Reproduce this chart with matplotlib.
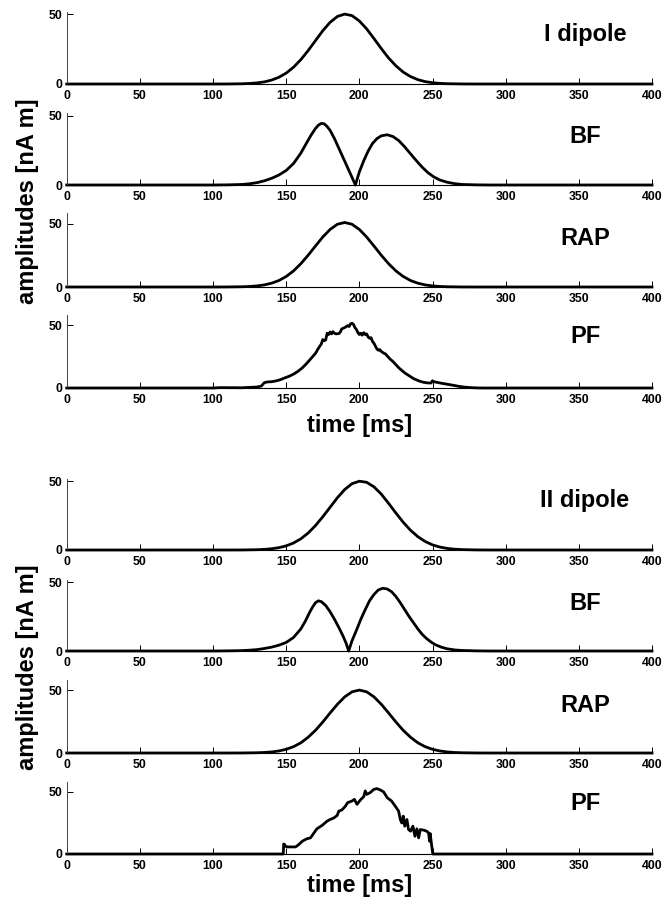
import matplotlib
matplotlib.use("Agg")
import matplotlib.pyplot as plt

# ---------------- data ----------------
# I dipole (top half)
t_dip1 = [0, 100, 110, 120, 125, 130, 135, 140, 145, 150, 155, 160, 165, 170, 175, 180, 185, 190,
          195, 200, 205, 210, 215, 220, 225, 230, 235, 240, 245, 250, 255, 260, 270, 280, 400]
v_dip1 = [0, 0.0, 0.03, 0.18, 0.39, 0.79, 1.5, 2.8, 4.8, 7.8, 12.0, 17.4, 23.9, 31.0, 38.1, 44.1, 48.3, 50.0,
          48.9, 45.1, 39.4, 32.5, 25.3, 18.6, 13.0, 8.5, 5.3, 3.1, 1.7, 0.9, 0.45, 0.21, 0.04, 0.0, 0]

# BF (top half)
t_bf1 = [0, 100, 110, 120, 125, 130, 135, 140, 145, 150, 155, 160, 164, 167, 170, 172, 174, 176, 178, 180,
         183, 186, 189, 192, 195, 197.3, 200, 203, 206, 209, 212, 215, 219, 223, 227, 231, 235, 239, 243, 247,
         251, 255, 260, 265, 270, 280, 290, 400]
v_bf1 = [0, 0.0, 0.1, 0.4, 0.9, 1.7, 3.0, 4.8, 7.2, 10.5, 15.5, 23.0, 30.5, 36.0, 40.8, 43.2, 44.5, 44.2, 42.2, 39.5,
         33.5, 26.5, 19.5, 12.5, 5.5, 0.0, 9.5, 17.5, 24.5, 30.0, 33.5, 35.5, 36.3, 35.0, 32.0, 27.5, 22.5, 17.5, 12.8, 8.8,
         5.8, 3.6, 2.0, 1.0, 0.4, 0.1, 0.0, 0]

# RAP (top half)
t_rap1 = [0, 100, 110, 120, 125, 130, 135, 140, 145, 150, 155, 160, 165, 170, 175, 180, 185, 190,
          195, 200, 205, 210, 215, 220, 225, 230, 235, 240, 245, 250, 255, 260, 270, 280, 400]
v_rap1 = [0, 0.0, 0.04, 0.2, 0.42, 0.86, 1.65, 3.0, 5.1, 8.3, 12.7, 18.4, 25.1, 32.4, 39.5, 45.5, 49.6, 51.0,
          49.6, 45.5, 39.5, 32.4, 25.1, 18.4, 12.7, 8.3, 5.1, 3.0, 1.65, 0.86, 0.42, 0.2, 0.04, 0.0, 0]

# PF (top half)
t_pf1 = [0, 100, 105, 120, 130, 133, 135, 137, 140, 143, 146, 149, 152, 155, 158, 161, 164, 167, 170, 172,
         174, 175, 176, 177, 178, 179, 180, 181, 182, 183, 184, 186, 187, 188, 190, 191, 192, 193, 194, 195,
         196, 197, 198, 199, 200, 201, 202, 203, 204, 205, 206, 207, 208, 209, 210, 212, 213, 214, 215, 217,
         218, 219, 221, 223, 225, 227, 229, 231, 233, 235, 237, 239, 241, 244, 247, 249, 250, 251, 253, 256,
         260, 264, 268, 272, 276, 280, 284, 400]
v_pf1 = [0, 0, 0.3, 0.2, 0.8, 1.5, 4.2, 4.8, 5.0, 5.6, 6.6, 8.0, 9.3, 11.0, 13.2, 16.0, 19.5, 23.5, 27.5, 31.5,
         35.0, 38.5, 37.5, 38.2, 43.5, 42.5, 44.5, 43.0, 44.8, 43.5, 43.0, 43.2, 44.5, 47.0, 48.0, 48.8, 49.5, 48.8, 51.0, 51.5,
         50.5, 48.0, 46.5, 44.0, 42.5, 43.5, 42.0, 44.0, 42.5, 43.0, 40.5, 39.5, 40.0, 37.0, 35.5, 31.0, 30.0, 30.5, 29.0, 27.5,
         27.0, 25.5, 23.0, 21.0, 18.5, 16.0, 14.0, 12.0, 10.5, 9.0, 7.5, 6.5, 5.5, 4.5, 4.0, 4.0, 5.8, 5.0, 4.5, 3.8,
         3.0, 2.2, 1.3, 0.7, 0.3, 0.1, 0, 0]

# II dipole (bottom half)
t_dip2 = [0, 110, 120, 130, 135, 140, 145, 150, 155, 160, 165, 170, 175, 180, 185, 190, 195, 200,
          205, 210, 215, 220, 225, 230, 235, 240, 245, 250, 255, 260, 265, 270, 280, 290, 400]
v_dip2 = [0, 0.01, 0.04, 0.21, 0.45, 0.9, 1.68, 3.0, 5.07, 8.1, 12.3, 17.7, 24.1, 31.0, 37.9, 43.9, 48.1, 49.9,
          49.1, 45.8, 40.5, 33.8, 26.8, 20.1, 14.3, 9.65, 6.16, 3.72, 2.13, 1.16, 0.6, 0.29, 0.06, 0.01, 0]

# BF (bottom half)
t_bf2 = [0, 100, 110, 120, 125, 130, 135, 140, 145, 150, 155, 160, 163, 166, 168, 170, 172, 174, 177, 180,
         183, 186, 189, 191, 192.7, 195, 198, 201, 204, 207, 210, 213, 216, 219, 222, 225, 228, 231, 234, 237,
         240, 243, 246, 249, 252, 256, 260, 265, 270, 280, 290, 400]
v_bf2 = [0, 0.0, 0.1, 0.3, 0.6, 1.0, 1.8, 2.8, 4.2, 6.2, 9.8, 16.0, 21.5, 28.0, 31.8, 35.0, 36.4, 35.8, 33.0, 28.5,
         23.0, 17.0, 10.5, 5.5, 0.0, 7.5, 15.0, 23.0, 30.0, 36.5, 41.0, 44.3, 45.5, 45.0, 43.0, 39.5, 35.0, 30.0, 25.0, 20.5,
         16.0, 12.0, 9.0, 6.5, 4.5, 2.8, 1.6, 0.8, 0.4, 0.1, 0.0, 0]

# RAP (bottom half)
t_rap2 = [0, 110, 120, 130, 135, 140, 145, 150, 155, 160, 165, 170, 175, 180, 185, 190, 195, 200,
          205, 210, 215, 220, 225, 230, 235, 240, 245, 250, 255, 260, 265, 270, 280, 290, 400]
v_rap2 = [0, 0.0, 0.04, 0.2, 0.41, 0.84, 1.62, 2.94, 5.0, 8.1, 12.5, 18.0, 24.6, 31.8, 38.7, 44.6, 48.6, 50.0,
          48.6, 44.6, 38.7, 31.8, 24.6, 18.0, 12.5, 8.1, 5.0, 2.94, 1.62, 0.84, 0.41, 0.2, 0.04, 0.0, 0]

# PF (bottom half)
t_pf2 = [0, 148, 148.3, 149, 149.5, 151, 156.4, 158.6, 161, 164, 166.6, 169, 171, 174.5, 178, 180, 182.5, 184.8,
         186, 188, 190.5, 192, 195, 196.6, 198.4, 200.7, 203, 204, 205, 207.5, 209.8, 212, 214.3, 216.6, 219, 222,
         224.5, 226.8, 228, 229, 230, 231, 232.5, 233.6, 235, 236.6, 238, 239.3, 240.5, 241.6, 244, 246, 247.3,
         248, 248.4, 249.5, 250.2, 400]
v_pf2 = [0, 0, 8.1, 7.5, 6.2, 5.7, 5.7, 7.6, 10.3, 12.2, 13.0, 17.0, 20.3, 23.0, 26.5, 27.8, 29.0, 31.0,
         34.6, 35.4, 38.6, 41.4, 42.7, 44.0, 40.0, 43.5, 46.2, 50.8, 48.0, 49.5, 52.0, 52.7, 51.6, 50.0, 45.4, 42.7,
         38.6, 34.6, 27.8, 25.0, 30.5, 22.4, 27.8, 19.7, 18.4, 22.4, 14.3, 20.3, 13.0, 19.7, 19.2, 18.4, 17.0,
         10.3, 16.5, 6.2, 0, 0]

panel_titles = ["I dipole", "BF", "RAP", "PF", "II dipole", "BF", "RAP", "PF"]
x_ticks = [0, 50, 100, 150, 200, 250, 300, 350, 400]
y_ticks = [0, 50]
x_label = "time [ms]"
y_label = "amplitudes [nA m]"

series = [(t_dip1, v_dip1), (t_bf1, v_bf1), (t_rap1, v_rap1), (t_pf1, v_pf1),
          (t_dip2, v_dip2), (t_bf2, v_bf2), (t_rap2, v_rap2), (t_pf2, v_pf2)]

# ---------------- layout ----------------
W, H = 663, 901
plt.rcParams["font.family"] = ["Liberation Sans", "DejaVu Sans"]
plt.rcParams["font.weight"] = "bold"

fig = plt.figure(figsize=(W / 100, H / 100), dpi=100)

x_left, x_right = 66.7, 652.0
ax_bottom_px = [84, 185, 287, 388, 550, 651, 753, 854]
ax_top_px = [12, 113, 213, 315, 479, 580, 680, 782]
y_tops = [51.5, 52.0, 58.5, 58.0, 51.5, 51.5, 58.0, 58.0]
title_baseline_px = [40.7, 143.3, 245, 343.3, 506.7, 610, 711.7, 810]
title_x_px = 585

for i, (t, v) in enumerate(series):
    b, tp = ax_bottom_px[i], ax_top_px[i]
    ax = fig.add_axes([x_left / W, 1 - b / H, (x_right - x_left) / W, (b - tp) / H])
    ax.plot(t, v, color="black", lw=2.0, clip_on=False, solid_joinstyle="round")
    ax.set_xlim(0, 400)
    ax.set_ylim(0, y_tops[i])
    ax.set_xticks(x_ticks)
    ax.set_yticks(y_ticks)
    ax.set_xticklabels([str(x) for x in x_ticks])
    ax.set_yticklabels([str(y) for y in y_ticks])
    for s in ("top", "right"):
        ax.spines[s].set_visible(False)
    ax.spines["left"].set_linewidth(0.7)
    ax.spines["left"].set_color("#444444")
    ax.spines["bottom"].set_linewidth(0.8)
    ax.tick_params(axis="both", direction="in", length=4, width=0.7, labelsize=8.8)
    ax.tick_params(axis="x", pad=4)
    ax.tick_params(axis="y", pad=3)
    ax.patch.set_alpha(0)
    fig.text(title_x_px / W, 1 - title_baseline_px[i] / H, panel_titles[i],
             ha="center", va="baseline", fontsize=17, fontweight="bold")

# axis labels
for yb in (432, 892):
    fig.text(359.3 / W, 1 - yb / H, x_label, ha="center", va="baseline",
             fontsize=17, fontweight="bold")
for yc in (201, 667):
    fig.text(28 / W, 1 - yc / H, y_label, ha="center", va="center", rotation=90,
             fontsize=17, fontweight="bold")

fig.savefig("out.png", dpi=100)
